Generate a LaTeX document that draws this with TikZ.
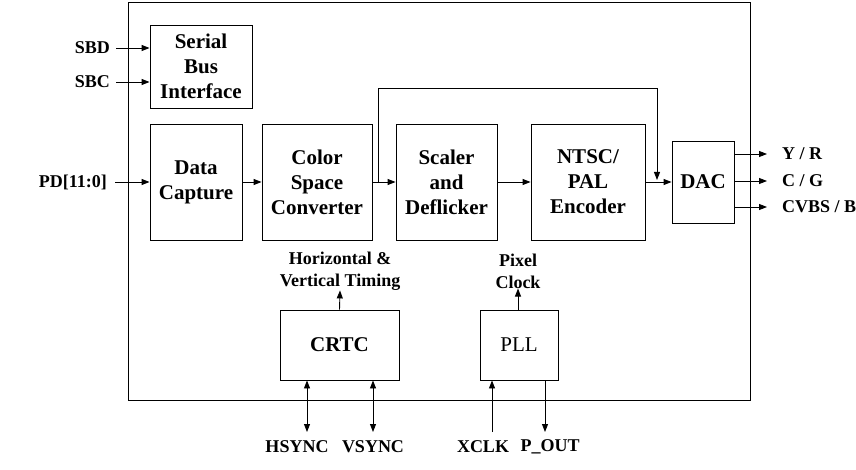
\documentclass[tikz,border=0pt]{standalone}
\usepackage{fontspec}
\setmainfont{Liberation Serif}
\usetikzlibrary{arrows.meta}
\begin{document}
\begin{tikzpicture}[x=1pt,y=-1pt,
  box/.style={draw,line width=0.9pt,align=center,inner sep=0pt,font=\fontsize{21}{25}\selectfont\bfseries},
  lbl/.style={inner sep=0pt,align=center,font=\fontsize{18}{22}\selectfont\bfseries},
  arr/.style={line width=0.9pt,-{Triangle[length=8pt,width=6pt]}},
  dbl/.style={line width=0.9pt,{Triangle[length=8pt,width=6pt]}-{Triangle[length=8pt,width=6pt]}},
  ln/.style={line width=0.9pt}]
\useasboundingbox (0,0) rectangle (856,470);
\draw[ln] (128,2) rectangle (750,400);
% blocks
\node[box,minimum width=102pt,minimum height=83pt] (ser) at (201,66.5) {Serial\\Bus\\Interface};
\node[box,minimum width=92pt,minimum height=116pt] (dc) at (196,182) {Data\\Capture};
\node[box,minimum width=110pt,minimum height=116pt] (csc) at (317,182) {Color\\Space\\Converter};
\node[box,minimum width=101pt,minimum height=116pt] (sc) at (446.5,182) {Scaler\\and\\Deflicker};
\node[box,minimum width=114pt,minimum height=116pt] (ntsc) at (588,182) {NTSC/\\PAL\\Encoder};
\node[box,minimum width=62pt,minimum height=82pt] (dac) at (703,182) {DAC};
\node[box,minimum width=119pt,minimum height=70pt] (crtc) at (339.5,345) {CRTC};
\node[box,minimum width=78pt,minimum height=70pt,font=\fontsize{21}{25}\selectfont] (pll) at (519,345) {PLL};
% input labels
\node[lbl,anchor=east] (sbd) at (110,48) {SBD};
\node[lbl,anchor=east] (sbc) at (110,82) {SBC};
\node[lbl,anchor=east] (pd) at (107,182) {PD[11:0]};
\draw[arr] ([xshift=6pt]sbd.east) -- (sbd.east -| ser.west);
\draw[arr] ([xshift=6pt]sbc.east) -- (sbc.east -| ser.west);
\draw[arr] ([xshift=8pt]pd.east) -- (pd.east -| dc.west);
% main flow
\draw[arr] (dc.east) -- (csc.west);
\draw[arr] (csc.east) -- (sc.west);
\draw[arr] (sc.east) -- (ntsc.west);
\draw[arr] (ntsc.east) -- (dac.west);
\coordinate (fb1) at (378,182);
\coordinate (fb2) at (657,180);
\draw[arr] (fb1) -- ++(0,-94) -| (fb2);
% outputs
\node[lbl,anchor=west] (yr) at (782,154) {Y / R};
\node[lbl,anchor=west] (cg) at (782,181) {C / G};
\node[lbl,anchor=west] (cvbs) at (782,207) {CVBS / B};
\draw[arr] (yr.west -| dac.east) -- ([xshift=-15pt]yr.west);
\draw[arr] (cg.west -| dac.east) -- ([xshift=-15pt]cg.west);
\draw[arr] (cvbs.west -| dac.east) -- ([xshift=-15pt]cvbs.west);
% timing labels
\node[lbl] (hvt) at (340,271) {Horizontal \&\\Vertical Timing};
\node[lbl] (pix) at (518,271) {Pixel\\Clock};
\draw[arr] (crtc.north) -- (hvt.south);
\draw[arr] (pix.south |- pll.north) -- (pix.south);
% bottom pins
\node[lbl] (hs) at (297,447) {HSYNC};
\node[lbl] (vs) at (373,447) {VSYNC};
\node[lbl] (xc) at (483,447) {XCLK};
\node[lbl] (po) at (550,447) {P\_OUT};
\coordinate (h1) at (307,432);
\coordinate (v1) at (373,432);
\coordinate (x1) at (492,432);
\coordinate (p1) at (545,432);
\draw[dbl] (h1 |- crtc.south) -- (h1);
\draw[dbl] (v1 |- crtc.south) -- (v1);
\draw[arr] (x1) -- (x1 |- pll.south);
\draw[arr] (p1 |- pll.south) -- (p1);
\end{tikzpicture}
\end{document}
